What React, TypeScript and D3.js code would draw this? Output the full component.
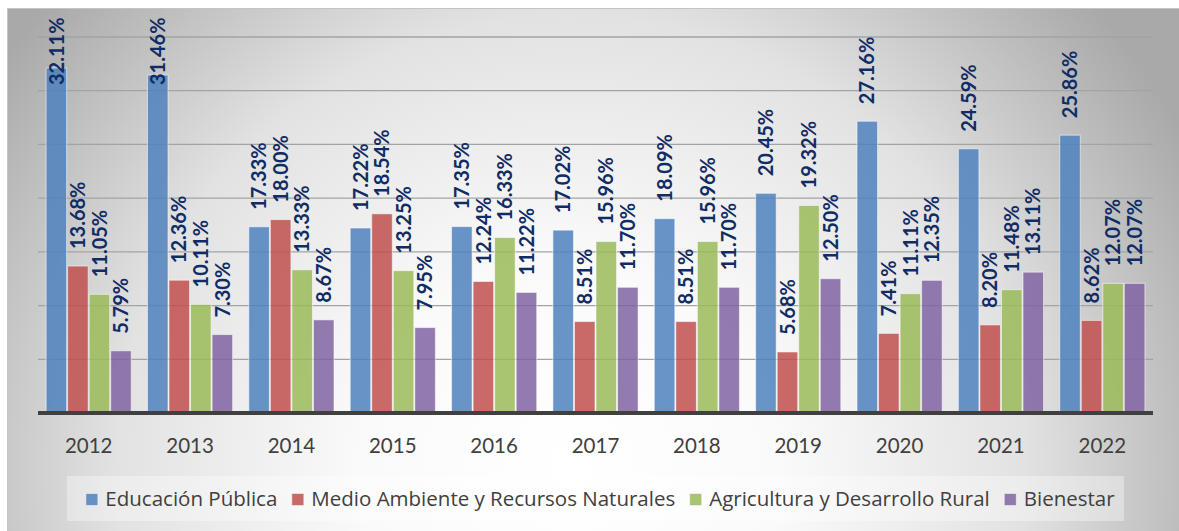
import React, { useEffect, useRef } from "react"
import * as d3 from "d3"

const years = ["2012", "2013", "2014", "2015", "2016", "2017", "2018", "2019", "2020", "2021", "2022"]
const seriesNames = ["Educación Pública", "Medio Ambiente y Recursos Naturales", "Agricultura y Desarrollo Rural", "Bienestar"]
const educacion = [32.11, 31.46, 17.33, 17.22, 17.35, 17.02, 18.09, 20.45, 27.16, 24.59, 25.86]
const medioAmbiente = [13.68, 12.36, 18.0, 18.54, 12.24, 8.51, 8.51, 5.68, 7.41, 8.2, 8.62]
const agricultura = [11.05, 10.11, 13.33, 13.25, 16.33, 15.96, 15.96, 19.32, 11.11, 11.48, 12.07]
const bienestar = [5.79, 7.3, 8.67, 7.95, 11.22, 11.7, 11.7, 12.5, 12.35, 13.11, 12.07]
const gridTicks = [5, 10, 15, 20, 25, 30, 35]

const colors = ["#4f81bd", "#c0504d", "#9bbb59", "#8064a2"]

const W = 1179
const H = 531

export default function App() {
  const ref = useRef<SVGSVGElement>(null)

  useEffect(() => {
    document.body.style.margin = "0"
    const svg = d3.select(ref.current)
    svg.selectAll("*").remove()

    const allSeries = [educacion, medioAmbiente, agricultura, bienestar]
    const rows = years.map((y, i) => ({ year: y, vals: allSeries.map(s => s[i]) }))

    // fondo con degradado
    const defs = svg.append("defs")
    const grad = defs.append("radialGradient")
      .attr("id", "bg").attr("gradientUnits", "userSpaceOnUse")
      .attr("cx", 570).attr("cy", 470).attr("r", 700)
    grad.append("stop").attr("offset", 0).attr("stop-color", "#ffffff")
    grad.append("stop").attr("offset", 0.3).attr("stop-color", "#fafafa")
    grad.append("stop").attr("offset", 0.65).attr("stop-color", "#e2e2e2")
    grad.append("stop").attr("offset", 1).attr("stop-color", "#a9a9a9")

    svg.append("rect").attr("width", W).attr("height", H).attr("fill", "#fff")
    svg.append("rect")
      .attr("x", 7.5).attr("y", 8.5).attr("width", W).attr("height", H)
      .attr("fill", "url(#bg)").attr("stroke", "#c4c4c4")

    const left = 38, right = 1153
    const x = d3.scaleBand().domain(years).range([left, right]).paddingInner(0.15).paddingOuter(0.075)
    const xs = d3.scaleBand().domain(seriesNames).range([0, x.bandwidth()])
    const y = d3.scaleLinear().domain([0, 35]).range([413, 37])

    // lineas de cuadricula
    svg.append("g").selectAll("line").data(gridTicks).join("line")
      .attr("x1", left).attr("x2", right)
      .attr("y1", d => y(d)).attr("y2", d => y(d))
      .attr("stroke", "#a3a3a3").attr("stroke-width", 1.3)

    // barras
    const groups = svg.append("g").selectAll("g").data(rows).join("g")
      .attr("transform", d => `translate(${x(d.year)},0)`)

    groups.selectAll("rect").data(d => d.vals.map((v, k) => ({ v, k }))).join("rect")
      .attr("x", d => xs(seriesNames[d.k])! + 0.5)
      .attr("width", xs.bandwidth() - 1)
      .attr("y", d => y(d.v))
      .attr("height", d => y(0) - y(d.v))
      .attr("fill", d => colors[d.k]).attr("fill-opacity", 0.85)
      .attr("stroke", "#ffffff").attr("stroke-opacity", 0.55).attr("stroke-width", 1)

    // etiquetas de datos
    groups.selectAll("text").data(d => d.vals.map((v, k) => ({ v, k }))).join("text")
      .attr("transform", d => {
        const cx = xs(seriesNames[d.k])! + xs.bandwidth() / 2
        const estLen = d.v >= 10 ? 70 : 58
        let bottom = y(d.v) - 17
        if (bottom - estLen < 15) bottom = 15 + estLen
        return `translate(${cx},${bottom}) rotate(-90)`
      })
      .attr("dy", "0.36em")
      .attr("font-family", "Lato, sans-serif").attr("font-weight", 700).attr("font-size", 20)
      .attr("fill", "#102c66")
      .text(d => d.v.toFixed(2) + "%")

    // eje
    svg.append("line").attr("x1", left).attr("x2", right).attr("y1", 413).attr("y2", 413)
      .attr("stroke", "#404040").attr("stroke-width", 4)

    svg.append("g").selectAll("text").data(years).join("text")
      .attr("x", d => x(d)! + x.bandwidth() / 2).attr("y", 446).attr("dy", "0.36em")
      .attr("text-anchor", "middle")
      .attr("font-family", "Lato, sans-serif").attr("font-size", 20.5).attr("fill", "#404040")
      .text(d => d)

    // leyenda
    svg.append("rect").attr("x", 67).attr("y", 476).attr("width", 1057).attr("height", 45)
      .attr("fill", "#ffffff").attr("fill-opacity", 0.35)
    const lg = svg.append("g")
    let cur = 0
    seriesNames.forEach((name, k) => {
      lg.append("rect").attr("x", cur + 0.5).attr("y", 493.5).attr("width", 12).attr("height", 12)
        .attr("fill", colors[k]).attr("fill-opacity", 0.85)
        .attr("stroke", "#ffffff").attr("stroke-opacity", 0.5)
      const t = lg.append("text").attr("x", cur + 20).attr("y", 499).attr("dy", "0.36em")
        .attr("font-family", "'Open Sans', sans-serif").attr("font-size", 20.5).attr("fill", "#404040")
        .text(name)
      const len = (t.node() as SVGTextElement).getComputedTextLength()
      cur += 20 + len + 14
    })
    const total = cur - 14
    lg.attr("transform", `translate(${600 - total / 2},0)`)
  }, [])

  return <svg ref={ref} width={W} height={H} style={{ display: "block" }} />
}
